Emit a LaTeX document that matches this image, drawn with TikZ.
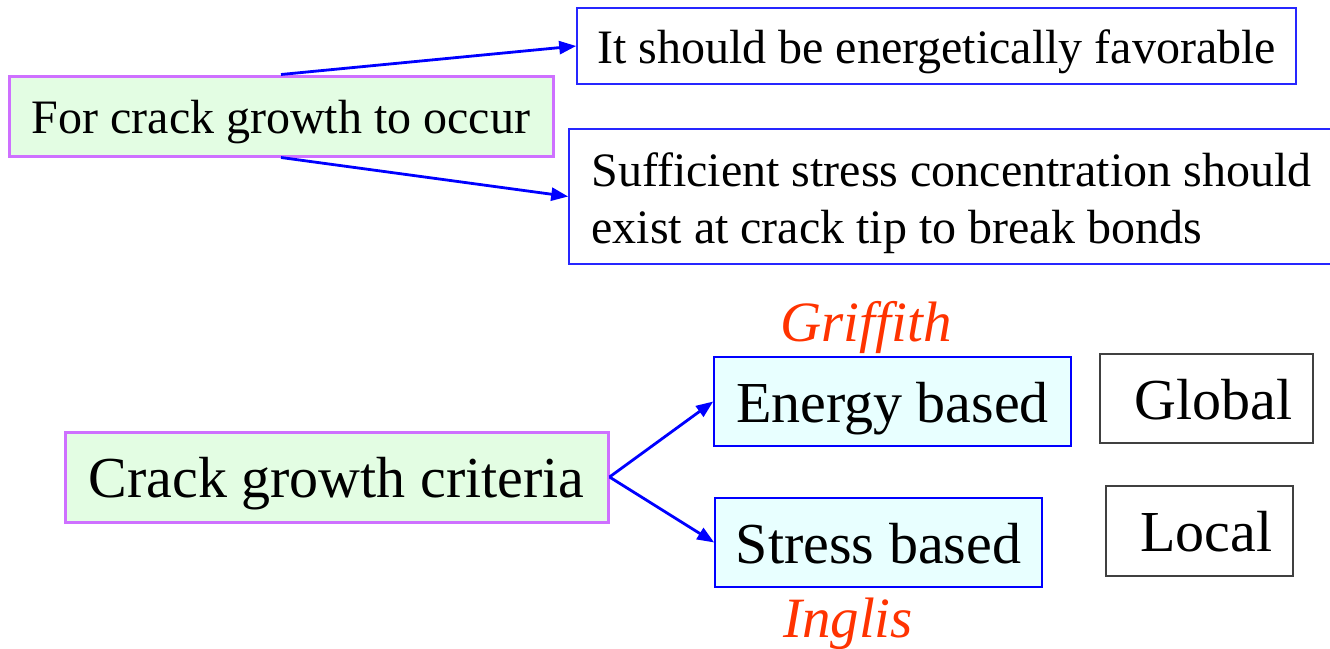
\documentclass[tikz,border=0pt]{standalone}
\usepackage{fontspec}
\setmainfont{Liberation Serif}
\usetikzlibrary{arrows.meta, positioning}

\definecolor{boxgreen}{RGB}{227,253,227}
\definecolor{boxviolet}{RGB}{206,112,255}
\definecolor{boxcyan}{RGB}{232,255,255}
\definecolor{namered}{RGB}{255,51,0}

\begin{document}
\begin{tikzpicture}[x=1pt, y=-1pt,
  block/.style={rectangle, draw, inner sep=0pt, align=center,
    text height=46pt, text depth=12pt, font=\fontsize{48}{57}\selectfont},
  big/.style={text height=55pt, text depth=14pt, font=\fontsize{58}{66}\selectfont},
  topic/.style={block, fill=boxgreen, draw=boxviolet, line width=3pt},
  cond/.style={block, fill=white, draw=blue!85!white, line width=1.6pt},
  crit/.style={block, big, fill=boxcyan, draw=blue, line width=1.6pt},
  reach/.style={block, big, fill=white, draw=black!75, line width=1.6pt},
  person/.style={anchor=base, text=namered, font=\fontsize{57}{60}\selectfont\itshape},
  arrow/.style={-{Triangle[length=17pt, width=13pt]}, line width=2.8pt, blue}
]
\useasboundingbox (0,0) rectangle (1330,648);

% conditions for growth
\node[topic, minimum width=544, minimum height=80] (occur) at (281,116) {For crack growth to occur};
\node[cond, minimum width=719, minimum height=76] (energetic) at (936.5,46) {It should be energetically favorable};
\node[cond, minimum width=765, minimum height=135, align=left, text height=, text depth=]
  (bonds) at (951.5,196.5) {\rule{0pt}{48pt}Sufficient stress concentration should\\exist at crack tip to break bonds};

\draw[arrow] (occur.north) -- (energetic.west);
\draw[arrow] (occur.south) -- (bonds.west);

% criteria
\node[topic, big, minimum width=543, minimum height=90] (criteria) at (336.5,477) {Crack growth criteria};
\node[crit, minimum width=357, minimum height=89] (energy) at (892.5,401.5) {Energy based};
\node[crit, minimum width=327, minimum height=89] (stress) at (878.5,542.5) {Stress based};
\node[reach, minimum width=213, minimum height=89] (global) at (1206.5,398.5) {\hspace*{14pt}Global};
\node[reach, minimum width=187, minimum height=90] (local) at (1199.5,531) {\hspace*{14pt}Local};

\node[person] (griffith) at (866,341) {Griffith};
\node[person] (inglis) at (848,637) {Inglis};

\draw[arrow] (criteria.east) -- (energy.west);
\draw[arrow] (criteria.east) -- (stress.west);
\end{tikzpicture}
\end{document}
